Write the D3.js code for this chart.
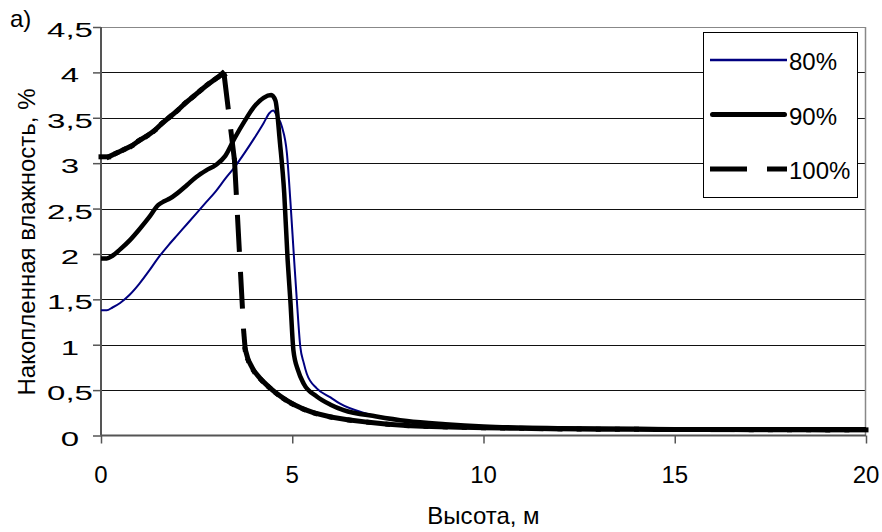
<!DOCTYPE html>
<html>
<head>
<meta charset="utf-8">
<script src="https://cdn.jsdelivr.net/npm/d3@7"></script>
<style>
  body { margin: 0; background: #fff; }
  text { font-family: Arial, "Liberation Sans", sans-serif; fill: #000; }
</style>
</head>
<body>
<script>
// Series data: height (m) and accumulated moisture (%)
const seriesNames = ["80%", "90%", "100%"];

const heights80 = [0, 0.15, 0.3, 0.5, 0.75, 1.0, 1.25, 1.5, 1.75, 2.0, 2.25, 2.5, 2.75, 3.0, 3.25, 3.5, 3.75, 4.0, 4.25, 4.4, 4.5, 4.6, 4.73, 4.86, 4.95, 5.05, 5.12, 5.21, 5.3, 5.38, 5.64, 6.0, 6.25, 6.95, 7.8, 9, 10, 12, 15, 20];
const moist80 = [1.38, 1.38, 1.41, 1.46, 1.55, 1.67, 1.81, 1.96, 2.09, 2.21, 2.33, 2.45, 2.57, 2.69, 2.83, 2.96, 3.11, 3.27, 3.44, 3.55, 3.58, 3.52, 3.40, 3.11, 2.59, 1.93, 1.49, 0.98, 0.80, 0.68, 0.52, 0.42, 0.35, 0.24, 0.17, 0.12, 0.10, 0.08, 0.07, 0.065];

const heights90 = [0, 0.15, 0.3, 0.5, 0.75, 1.0, 1.25, 1.5, 1.65, 1.8, 2.0, 2.25, 2.5, 2.75, 3.0, 3.25, 3.5, 3.75, 4.0, 4.25, 4.45, 4.56, 4.68, 4.79, 4.88, 4.95, 5.03, 5.15, 5.3, 5.64, 6.0, 6.34, 7.2, 8, 9, 10, 12, 15, 20];
const moist90 = [1.95, 1.95, 1.98, 2.05, 2.15, 2.27, 2.40, 2.54, 2.58, 2.61, 2.67, 2.76, 2.85, 2.92, 2.98, 3.08, 3.28, 3.46, 3.62, 3.72, 3.75, 3.69, 3.22, 2.67, 1.93, 1.49, 0.94, 0.72, 0.57, 0.43, 0.34, 0.28, 0.21, 0.16, 0.125, 0.10, 0.08, 0.07, 0.068];

const heights100 = [0, 0.2, 0.4, 0.6, 0.8, 1.0, 1.2, 1.4, 1.6, 1.8, 2.0, 2.2, 2.4, 2.6, 2.8, 3.0, 3.1, 3.18, 3.22, 3.49, 3.73, 3.77, 3.85, 4.0, 4.2, 4.4, 4.6, 4.8, 5.0, 5.3, 5.6, 6.0, 6.5, 7.0, 7.5, 8.0, 8.5, 9.0, 9.5, 10, 10.5, 11, 11.5, 12, 12.5, 13, 13.5, 14, 14.5, 15, 15.5, 16, 16.5, 17, 17.5, 18, 18.5, 19, 19.5, 20];
const moist100 = [3.07, 3.07, 3.11, 3.15, 3.19, 3.25, 3.30, 3.36, 3.44, 3.51, 3.58, 3.66, 3.73, 3.80, 3.87, 3.93, 3.96, 3.99, 3.97, 3.03, 1.15, 0.95, 0.83, 0.71, 0.61, 0.53, 0.46, 0.40, 0.35, 0.29, 0.245, 0.205, 0.17, 0.145, 0.125, 0.11, 0.10, 0.095, 0.09, 0.085, 0.082, 0.079, 0.076, 0.073, 0.071, 0.07, 0.069, 0.068, 0.067, 0.066, 0.066, 0.065, 0.065, 0.064, 0.064, 0.063, 0.063, 0.062, 0.062, 0.062];

const xTicks = [0, 5, 10, 15, 20];
const yTicks = [0, 0.5, 1, 1.5, 2, 2.5, 3, 3.5, 4, 4.5];
const yTickLabels = ["0", "0,5", "1", "1,5", "2", "2,5", "3", "3,5", "4", "4,5"];

// Chart dimensions
let width = 882;
let height = 532;
let plotLeft = 101, plotRight = 866, plotTop = 27, plotBottom = 435.5;

let x = d3.scaleLinear().domain([0, 20]).range([plotLeft, plotRight]);
let y = d3.scaleLinear().domain([0, 4.5]).range([plotBottom, plotTop]);

let svg = d3.select("body").append("svg")
    .attr("width", width)
    .attr("height", height);

// Gridlines
svg.append("g")
    .selectAll("line")
    .data(yTicks.filter(d => d > 0))
    .join("line")
    .attr("x1", plotLeft)
    .attr("x2", plotRight - 1)
    .attr("y1", d => Math.round(y(d)) + 0.5)
    .attr("y2", d => Math.round(y(d)) + 0.5)
    .attr("stroke", d => d === 4.5 ? "#888" : "#111")
    .attr("stroke-width", 1);

// Right border of the plot area
svg.append("line")
    .attr("x1", plotRight - 0.5).attr("x2", plotRight - 0.5)
    .attr("y1", plotTop).attr("y2", plotBottom)
    .attr("stroke", "#888")
    .attr("stroke-width", 1.5);

// Axes
svg.append("g")
    .attr("transform", `translate(0,${plotBottom})`)
    .call(d3.axisBottom(x).tickValues(xTicks).tickSize(8).tickFormat(""))
    .call(g => g.select(".domain").remove())
    .call(g => g.selectAll("line").attr("stroke", "#555").attr("stroke-width", 1.5));

svg.append("g")
    .attr("transform", `translate(${plotLeft},0)`)
    .call(d3.axisLeft(y).tickValues(yTicks).tickSize(8).tickFormat(""))
    .call(g => g.select(".domain").remove())
    .call(g => g.selectAll("line").attr("stroke", "#555").attr("stroke-width", 1.5));

svg.append("line")
    .attr("x1", plotLeft).attr("x2", plotRight)
    .attr("y1", plotBottom).attr("y2", plotBottom)
    .attr("stroke", "#555").attr("stroke-width", 2);
svg.append("line")
    .attr("x1", plotLeft).attr("x2", plotLeft)
    .attr("y1", plotTop).attr("y2", plotBottom)
    .attr("stroke", "#555").attr("stroke-width", 2);

// Tick labels
svg.append("g")
    .selectAll("text")
    .data(xTicks)
    .join("text")
    .attr("x", d => x(d))
    .attr("y", 483)
    .attr("text-anchor", "middle")
    .attr("font-size", "24px")
    .text(d => d);

// y labels are drawn wide, as in the source picture
svg.append("g")
    .selectAll("text")
    .data(yTicks)
    .join("text")
    .attr("transform", d => `translate(70,${y(d) + 10}) scale(1.65,1)`)
    .attr("text-anchor", "middle")
    .attr("font-size", "20px")
    .text((d, i) => yTickLabels[i]);

// Axis titles
svg.append("text")
    .attr("x", (plotLeft + plotRight) / 2)
    .attr("y", 524)
    .attr("text-anchor", "middle")
    .attr("font-size", "24px")
    .text("Высота, м");

svg.append("text")
    .attr("transform", "translate(35,242) rotate(-90)")
    .attr("text-anchor", "middle")
    .attr("font-size", "24px")
    .text("Накопленная влажность, %");

svg.append("text")
    .attr("x", 10)
    .attr("y", 27)
    .attr("font-size", "24px")
    .text("а)");

// Lines
let line = d3.line()
    .x(d => x(d[0]))
    .y(d => y(d[1]))
    .curve(d3.curveMonotoneX);

let pts80 = heights80.map((h, i) => [h, moist80[i]]);
let pts90 = heights90.map((h, i) => [h, moist90[i]]);
let pts100 = heights100.map((h, i) => [h, moist100[i]]);

svg.append("path")
    .attr("d", line(pts80))
    .attr("fill", "none")
    .attr("stroke", "#000080")
    .attr("stroke-width", 2);

svg.append("path")
    .attr("d", line(pts90))
    .attr("fill", "none")
    .attr("stroke", "#000")
    .attr("stroke-width", 4.5)
    .attr("stroke-linejoin", "round");

// Dashed series: the dash pattern restarts on every segment, so dense parts look solid
svg.append("g")
    .selectAll("path")
    .data(d3.pairs(pts100))
    .join("path")
    .attr("d", d => d3.line().x(p => x(p[0])).y(p => y(p[1]))(d))
    .attr("fill", "none")
    .attr("stroke", "#000")
    .attr("stroke-width", 5)
    .attr("stroke-linecap", "square")
    .attr("stroke-dasharray", "32,25");

// Legend
let legend = svg.append("g");

legend.append("rect")
    .attr("x", 703.5)
    .attr("y", 32.5)
    .attr("width", 154)
    .attr("height", 165)
    .attr("fill", "#fff")
    .attr("stroke", "#000")
    .attr("stroke-width", 1);

let legendStyles = [
    { color: "#000080", width: 2.5, dash: null, cap: "butt" },
    { color: "#000", width: 5, dash: null, cap: "round" },
    { color: "#000", width: 5, dash: "32,25", cap: "square" }
];

let item = legend.selectAll("g")
    .data(seriesNames)
    .join("g")
    .attr("transform", (d, i) => `translate(0,${60 + i * 54.5})`);

item.append("line")
    .attr("x1", (d, i) => legendStyles[i].cap === "butt" ? 710 : 712.5)
    .attr("x2", (d, i) => legendStyles[i].cap === "butt" ? 787 : 784.5)
    .attr("stroke", (d, i) => legendStyles[i].color)
    .attr("stroke-width", (d, i) => legendStyles[i].width)
    .attr("stroke-linecap", (d, i) => legendStyles[i].cap)
    .attr("stroke-dasharray", (d, i) => legendStyles[i].dash);

item.append("text")
    .attr("x", 789)
    .attr("y", 10)
    .attr("font-size", "24px")
    .text(d => d);
</script>
</body>
</html>
